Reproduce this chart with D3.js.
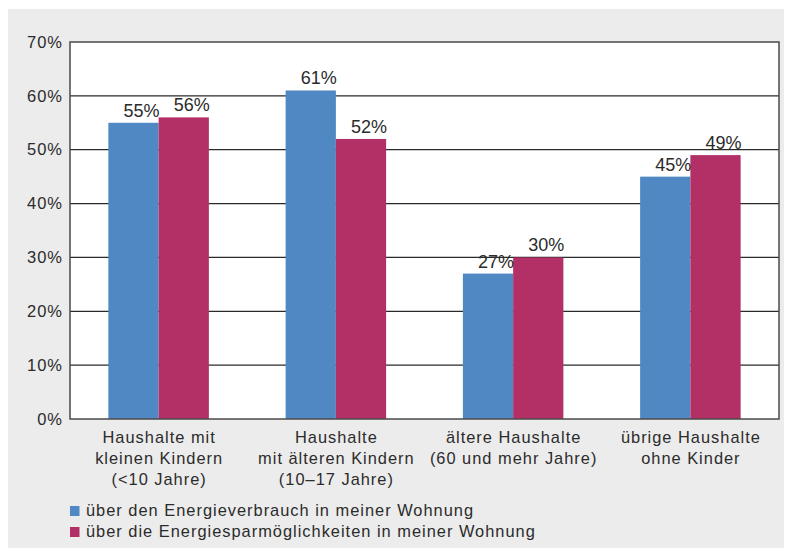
<!DOCTYPE html>
<html>
<head>
<meta charset="utf-8">
<script src="https://cdn.jsdelivr.net/npm/d3@7"></script>
<style>
  html, body { margin: 0; padding: 0; background: #ffffff; }
  svg { display: block; font-family: "Liberation Sans", Arial, Helvetica, sans-serif; }
</style>
</head>
<body>
<svg id="chart" width="785" height="550"></svg>
<script>
// Household groups (each label split into lines)
const categories = [
  ["Haushalte mit", "kleinen Kindern", "(<10 Jahre)"],
  ["Haushalte", "mit älteren Kindern", "(10–17 Jahre)"],
  ["ältere Haushalte", "(60 und mehr Jahre)"],
  ["übrige Haushalte", "ohne Kinder"]
];
const seriesNames = [
  "über den Energieverbrauch in meiner Wohnung",
  "über die Energiesparmöglichkeiten in meiner Wohnung"
];
const energyUse = [55, 61, 27, 45];
const savingOptions = [56, 52, 30, 49];
const yTicks = [0, 10, 20, 30, 40, 50, 60, 70];
const colors = ["#4f88c3", "#b33066"];

const series = [energyUse, savingOptions];
const catKeys = categories.map(c => c.join(" "));

const svg = d3.select("#chart");
const plot = { left: 70, right: 779, top: 42, bottom: 419 };
const textColor = "#2b2b2b";

// panel background
svg.append("rect")
  .attr("x", 8).attr("y", 9).attr("width", 776).attr("height", 539)
  .attr("fill", "#ececec");

// plot area
svg.append("rect")
  .attr("x", plot.left).attr("y", plot.top)
  .attr("width", plot.right - plot.left).attr("height", plot.bottom - plot.top)
  .attr("fill", "#ffffff");

const y = d3.scaleLinear().domain([0, 70]).range([plot.bottom, plot.top]);
const x0 = d3.scaleBand().domain(catKeys).range([plot.left, plot.right])
  .paddingInner(0.433).paddingOuter(0.2165);
const x1 = d3.scaleBand().domain(d3.range(series.length)).range([0, x0.bandwidth()]);

// horizontal grid lines
svg.append("g").selectAll("line")
  .data(yTicks.filter(t => t > 0 && t < 70))
  .join("line")
  .attr("x1", plot.left).attr("x2", plot.right)
  .attr("y1", d => y(d)).attr("y2", d => y(d))
  .attr("stroke", "#2a2a2a").attr("stroke-width", 1.2);

// y axis labels
const yAxis = d3.axisLeft(y).tickValues(yTicks).tickFormat(d => d + "%").tickSize(0).tickPadding(7);
const ya = svg.append("g").attr("transform", `translate(${plot.left},0)`).call(yAxis);
ya.select(".domain").remove();
ya.selectAll("text")
  .attr("font-size", 16.5).attr("fill", textColor)
  .attr("letter-spacing", 1)
  .attr("font-family", "'Liberation Sans', Arial, sans-serif");

// bars
const groups = svg.append("g").selectAll("g")
  .data(catKeys)
  .join("g")
  .attr("transform", d => `translate(${x0(d)},0)`);

groups.selectAll("rect")
  .data((d, i) => series.map((s, j) => ({ j, v: s[i] })))
  .join("rect")
  .attr("x", d => x1(d.j))
  .attr("width", x1.bandwidth())
  .attr("y", d => y(d.v))
  .attr("height", d => y(0) - y(d.v))
  .attr("fill", d => colors[d.j]);

// value labels
groups.selectAll("text")
  .data((d, i) => series.map((s, j) => ({ j, v: s[i] })))
  .join("text")
  .attr("x", d => x1(d.j) + x1.bandwidth() / 2 + 8)
  .attr("y", d => y(d.v) - 6)
  .attr("text-anchor", "middle")
  .attr("font-size", 18)
  .attr("fill", textColor)
  .text(d => d.v + "%");

// plot frame
svg.append("rect")
  .attr("x", plot.left).attr("y", plot.top)
  .attr("width", plot.right - plot.left).attr("height", plot.bottom - plot.top)
  .attr("fill", "none").attr("stroke", "#4a4a4a").attr("stroke-width", 1.5);

// category labels
const catG = svg.append("g").selectAll("text")
  .data(categories)
  .join("text")
  .attr("text-anchor", "middle")
  .attr("font-size", 16.4)
  .attr("letter-spacing", 1)
  .attr("fill", textColor)
  .attr("transform", (d, i) => `translate(${x0(catKeys[i]) + x0.bandwidth() / 2 + 0.5},443)`);
catG.selectAll("tspan")
  .data(d => d)
  .join("tspan")
  .attr("x", 0)
  .attr("y", (d, i) => i * 21)
  .text(d => d);

// legend
const legend = svg.append("g").selectAll("g")
  .data(seriesNames)
  .join("g")
  .attr("transform", (d, i) => `translate(70,${506 + i * 21})`);
legend.append("rect")
  .attr("width", 9.5).attr("height", 10)
  .attr("fill", (d, i) => colors[i]);
legend.append("text")
  .attr("x", 16).attr("y", 9.5)
  .attr("font-size", 16.4)
  .attr("letter-spacing", 1)
  .attr("fill", textColor)
  .text(d => d);
</script>
</body>
</html>
